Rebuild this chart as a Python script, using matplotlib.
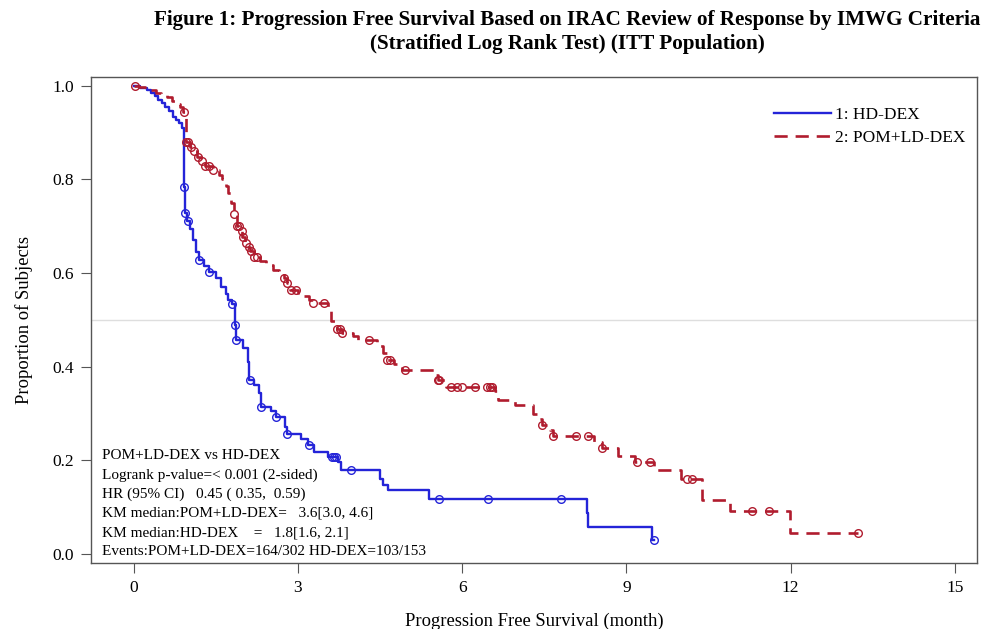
import numpy as np
import matplotlib
matplotlib.use("Agg")
import matplotlib.pyplot as plt

plt.rcParams["font.family"] = ["Liberation Serif", "DejaVu Serif"]

# ----------------- DATA -----------------
# HD-DEX: event times (month) and KM survival after each event
hd_t = [0.12, 0.25, 0.31, 0.38, 0.45, 0.52, 0.58, 0.65, 0.72, 0.78, 0.83, 0.89,
        0.91, 0.93, 0.97, 1.03, 1.08, 1.13, 1.19, 1.28, 1.37, 1.5, 1.6, 1.68,
        1.73, 1.79, 1.85, 1.86, 2.0, 2.08, 2.1, 2.2, 2.28, 2.32, 2.5, 2.6,
        2.77, 2.8, 3.05, 3.18, 3.29, 3.54, 3.74, 3.78, 4.5, 4.55, 4.64, 5.4,
        8.28, 8.3, 9.47]
hd_s = [0.995, 0.99, 0.985, 0.977, 0.97, 0.962, 0.955, 0.945, 0.934, 0.927, 0.92, 0.91,
        0.784, 0.729, 0.71, 0.695, 0.67, 0.645, 0.628, 0.615, 0.603, 0.59, 0.57, 0.555,
        0.543, 0.534, 0.49, 0.457, 0.44, 0.41, 0.372, 0.36, 0.344, 0.314, 0.305, 0.293,
        0.271, 0.256, 0.245, 0.233, 0.218, 0.207, 0.197, 0.18, 0.16, 0.147, 0.137, 0.118,
        0.088, 0.058, 0.03]
hd_cens = [0.915, 0.935, 0.99, 1.19, 1.37, 1.79, 1.85, 1.87, 2.12, 2.32, 2.6, 2.8,
           3.2, 3.63, 3.66, 3.69, 3.96, 5.57, 6.48, 7.81, 9.5]

# POM+LD-DEX
pom_t = [0.1, 0.2, 0.3, 0.4, 0.5, 0.6, 0.7, 0.78, 0.85, 0.9, 0.95, 1.02, 1.08,
         1.15, 1.22, 1.31, 1.44, 1.55, 1.62, 1.68, 1.72, 1.78, 1.84, 1.88, 1.93,
         1.98, 2.03, 2.08, 2.13, 2.2, 2.3, 2.41, 2.55, 2.65, 2.74, 2.8, 2.85,
         3.0, 3.2, 3.28, 3.55, 3.6, 3.72, 3.8, 4.0, 4.1, 4.45, 4.55, 4.62, 4.75,
         4.9, 5.5, 5.55, 5.7, 6.6, 6.66, 6.97, 7.3, 7.38, 7.46, 7.6, 7.65, 8.4,
         8.55, 8.85, 9.15, 9.5, 10.0, 10.38, 10.9, 11.99]
pom_s = [0.997, 0.993, 0.99, 0.985, 0.98, 0.975, 0.968, 0.96, 0.955, 0.944, 0.88, 0.87, 0.86,
         0.848, 0.84, 0.828, 0.82, 0.81, 0.80, 0.785, 0.771, 0.75, 0.727, 0.70, 0.69,
         0.677, 0.665, 0.656, 0.646, 0.634, 0.625, 0.617, 0.607, 0.60, 0.59, 0.579, 0.564,
         0.55, 0.543, 0.537, 0.52, 0.498, 0.481, 0.472, 0.465, 0.457, 0.445, 0.43, 0.415, 0.405,
         0.393, 0.382, 0.372, 0.357, 0.348, 0.329, 0.318, 0.30, 0.288, 0.276, 0.264, 0.252, 0.24,
         0.226, 0.21, 0.197, 0.18, 0.16, 0.115, 0.092, 0.045]
pom_cens = [0.03, 0.91, 0.96, 1.0, 1.05, 1.1, 1.17, 1.25, 1.31, 1.38, 1.44, 1.84,
            1.88, 1.92, 1.97, 2.0, 2.05, 2.1, 2.15, 2.2, 2.26, 2.74, 2.8, 2.88, 2.96,
            3.28, 3.47, 3.72, 3.76, 3.8, 4.29, 4.63, 4.68, 4.95, 5.55, 5.58, 5.8, 5.9,
            6.0, 6.24, 6.46, 6.5, 6.55, 7.46, 7.65, 8.07, 8.3, 8.56, 9.2, 9.43, 10.1,
            10.2, 11.3, 11.6, 13.23]

x_ticks = [0, 3, 6, 9, 12, 15]
y_ticks = [0.0, 0.2, 0.4, 0.6, 0.8, 1.0]

stats_lines = [
    "POM+LD-DEX vs HD-DEX",
    "Logrank p-value=< 0.001 (2-sided)",
    "HR (95% CI)   0.45 ( 0.35,  0.59)",
    "KM median:POM+LD-DEX=   3.6[3.0, 4.6]",
    "KM median:HD-DEX    =   1.8[1.6, 2.1]",
    "Events:POM+LD-DEX=164/302 HD-DEX=103/153",
]
# ---------------------------------------------------------------

BLUE = "#2424d8"
RED = "#b01c2e"


def km_curve(times, surv, t_end):
    # prepend start, extend to last censor time
    t = np.concatenate([[0.0], times, [t_end]])
    s = np.concatenate([[1.0], surv, [surv[-1]]])
    return t, s


def censor_y(times, surv, cens):
    t = np.concatenate([[0.0], times])
    s = np.concatenate([[1.0], surv])
    idx = np.searchsorted(t, cens, side="right") - 1
    return s[idx]


fig = plt.figure(figsize=(10.07, 6.29), dpi=100)
ax = fig.add_axes([0.0904, 0.105, 0.8796, 0.773])

ax.axhline(0.5, color="#dedede", lw=1.0, zorder=0)

t, s = km_curve(hd_t, hd_s, max(hd_cens))
ax.step(t, s, where="post", color=BLUE, lw=1.7, label="1: HD-DEX")
ax.plot(hd_cens, censor_y(hd_t, hd_s, hd_cens), "o", mfc="none", mec=BLUE,
        ms=5.5, mew=1.0)

t, s = km_curve(pom_t, pom_s, max(pom_cens))
ax.step(t, s, where="post", color=RED, lw=1.9, ls=(0, (5, 3)),
        label="2: POM+LD-DEX")
ax.plot(pom_cens, censor_y(pom_t, pom_s, pom_cens), "o", mfc="none", mec=RED,
        ms=5.5, mew=1.0)

ax.set_xlim(-0.78, 15.4)
ax.set_ylim(-0.019, 1.019)
ax.set_xticks(x_ticks)
ax.set_yticks(y_ticks)
ax.set_yticklabels([f"{v:.1f}" for v in y_ticks])
ax.tick_params(labelsize=12.5, direction="out", length=7, pad=5, color="#555555")
for sp in ax.spines.values():
    sp.set_color("#555555")
    sp.set_linewidth(1.0)

ax.set_xlabel("Progression Free Survival (month)", fontsize=13.4, labelpad=12)
ax.set_ylabel("Proportion of Subjects", fontsize=13.4, labelpad=14)

leg = ax.legend(loc="upper right", bbox_to_anchor=(1.005, 0.97), frameon=False,
                fontsize=12.5, handlelength=3.3, handletextpad=0.25,
                labelspacing=0.4)

# stats block, one line at a time with even spacing (bottom line first)
for i, line in enumerate(reversed(stats_lines)):
    ax.text(0.012, 0.023 + i * 0.0395, line, transform=ax.transAxes,
            fontsize=10.95, va="center", ha="left")

fig.text(0.563, 0.968, "Figure 1: Progression Free Survival Based on IRAC Review of Response by IMWG Criteria",
         ha="center", va="center", fontsize=15.2, fontweight="bold")
fig.text(0.563, 0.930, "(Stratified Log Rank Test) (ITT Population)",
         ha="center", va="center", fontsize=15.2, fontweight="bold")

fig.savefig("out.png", dpi=100)
